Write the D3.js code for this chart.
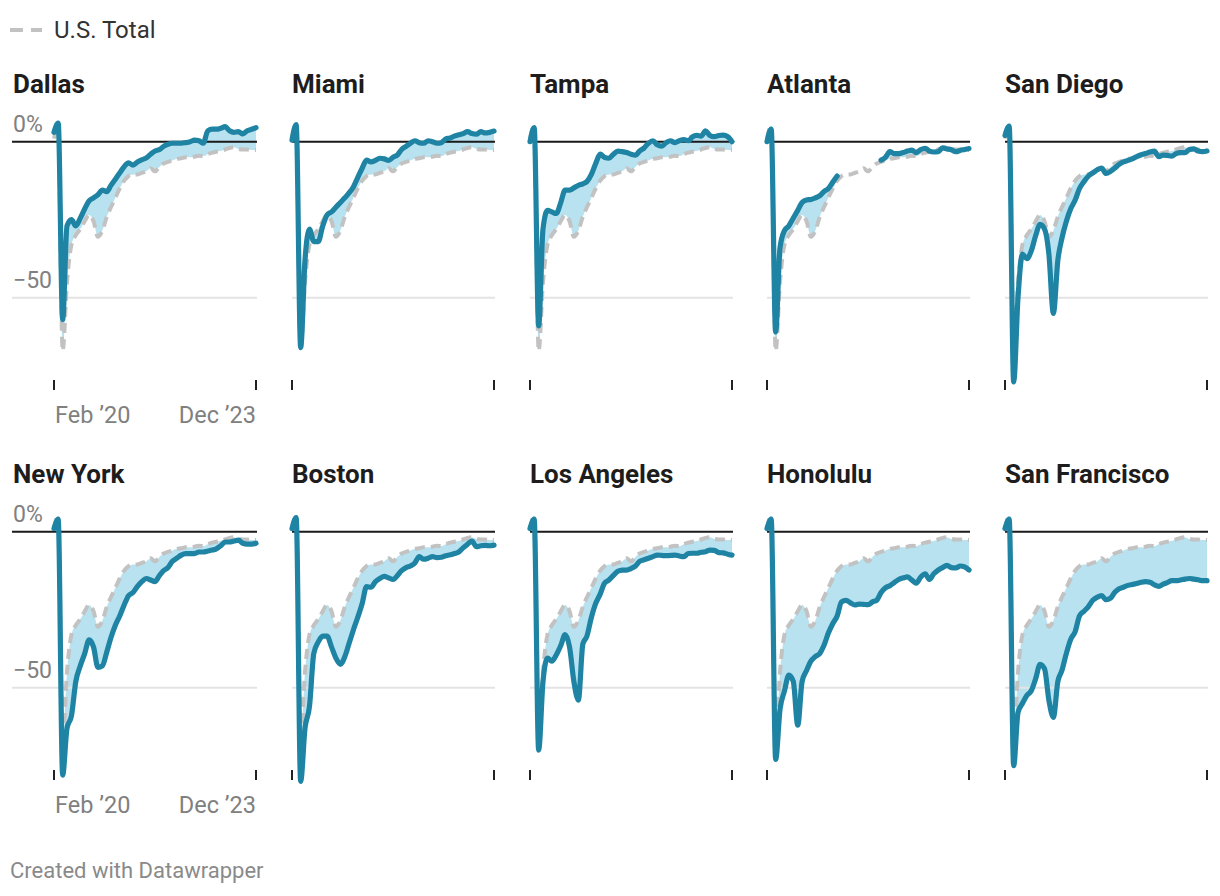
<!DOCTYPE html>
<html><head><meta charset="utf-8">
<script src="https://cdn.jsdelivr.net/npm/d3@7"></script>
<style>
body{margin:0;background:#fff;}
svg text{font-family:Roboto,"Noto Sans",sans-serif;}
</style></head><body>
<svg id="chart" width="1220" height="896"></svg>
<script>
// ---- data (percent change vs. pre-pandemic, monthly Feb 2020 – Dec 2023) ----
const firstMonth = new Date(2020, 1, 1);
const lastMonth = new Date(2023, 11, 1);
const months = d3.timeMonth.range(firstMonth, d3.timeMonth.offset(lastMonth, 1));

const usTotal = [1, 5, -67, -45, -33, -30, -28, -25.5, -23.5, -25.5, -30.5, -28.5, -24, -21, -18, -15, -12.5, -11, -10.5, -10.5, -10, -9.5, -8.5, -9.5, -8, -7, -6.5, -6, -5.5, -5.3, -5, -5, -4.8, -4.5, -4.6, -4, -3.5, -3.2, -3, -2.5, -2, -1.8, -2.3, -2.5, -2.5, -2.7, -2.7];

const dallas = [3, 6, -57, -27, -25, -27, -24.5, -21.5, -19, -18, -17, -15.5, -16, -14, -12, -10, -8, -6.8, -7.5, -6.5, -5.8, -5.2, -4, -3, -2.5, -1.5, -0.8, -0.5, -0.5, -0.5, -0.3, 0, 0.5, 0.3, -0.5, 3.5, 4, 4, 4.3, 4.8, 3.5, 3, 3.2, 2.5, 3.5, 4, 4.5];
const miami = [0.5, 5.5, -66, -38, -28, -32, -32, -27, -23.5, -22.5, -21, -19.5, -18, -16.5, -14.5, -11.5, -8.5, -5.9, -6.5, -6, -5.3, -5.5, -6, -5, -4.2, -2.5, -1.5, -0.5, 0.3, -0.3, -0.5, 0.3, 0, -0.5, -0.3, 0.9, 1.2, 1.8, 2.2, 2.6, 3.2, 2.6, 2.4, 3.2, 2.8, 3.0, 3.4];
const tampa = [0, 4.5, -59, -28, -22, -22.5, -23, -19.5, -15.5, -15.5, -14.8, -14, -13.5, -12.8, -10.5, -7, -4, -5, -5.3, -4, -3, -3.2, -3.5, -4, -4.3, -3, -2, -0.5, 0.3, -1, -1.4, -0.3, 0.3, -0.3, 0.3, 0.7, 0.3, 1.5, 2, 1.8, 3.5, 2, 1.6, 2, 2.1, 1.6, 0];
const atlanta = [0, 4, -61, -34, -28.5, -27, -24.5, -22, -19.5, -18.7, -18.5, -18, -17.3, -16, -15, -13, -11, null, null, null, null, null, null, null, null, null, -5.9, -5, -3.2, -3.8, -3.8, -3.5, -3, -2.7, -3.5, -2.5, -2.1, -3, -3.3, -3.2, -2, -2.3, -2.6, -3.2, -2.8, -2.5, -2.2];
const sanDiego = [2, 5, -77, -50, -36, -37.5, -35, -30, -26.5, -28, -36, -55, -38, -31, -25.5, -21.5, -18.7, -15, -12.8, -11, -10, -9, -8.5, -10.2, -9.5, -8.5, -7.3, -6.5, -6, -5.5, -4.8, -4.2, -3.8, -3.3, -3, -4.8, -4.3, -4.4, -4.6, -3.8, -3.5, -3.5, -2.5, -2.3, -3, -3.2, -3];
const newYork = [1, 4, -78, -63, -59, -48, -43, -39, -34.7, -37, -43.5, -43, -38.5, -34, -30, -27, -23.5, -20.5, -19.5, -17.5, -16, -15, -15.5, -16, -14, -12.5, -11.5, -9.5, -8.5, -7.5, -7, -7, -7, -6.5, -6.5, -6.2, -5.9, -5.5, -4.5, -3.3, -3.3, -3, -2.7, -3.7, -4, -4, -3.7];
const boston = [1, 4.5, -80, -63, -56, -39, -35.3, -33.5, -33.5, -37, -40.5, -42.5, -40, -36, -31.5, -27.5, -23, -17.6, -17.8, -16, -15, -14.3, -14.8, -15.3, -14, -12.5, -11.5, -11, -10, -8, -8.8, -8.5, -8, -8.3, -8.2, -7.7, -7.4, -7, -6.5, -5.2, -4, -3, -4.8, -4.5, -4.4, -4.5, -4.3];
const losAngeles = [1, 4, -70, -48, -40.5, -41.5, -39.5, -36.5, -33, -37, -48, -54, -36, -33.5, -27.5, -23, -20, -16.5, -15.5, -14, -12.7, -12.3, -12.3, -11.8, -11, -9.5, -9, -8.5, -8, -7.5, -7.6, -7.7, -7.6, -7.5, -7.8, -8, -7, -6.9, -6.9, -6.6, -6.4, -5.9, -6, -6.7, -6.8, -7.2, -7.5];
const honolulu = [1, 4, -73, -57, -51, -46, -48, -62, -48, -44.5, -41.5, -40, -39, -36.5, -32.5, -29.5, -27, -22.5, -22, -22.8, -23.5, -23.2, -23.3, -23.4, -22.5, -22, -19.5, -18, -17.3, -16.3, -15.3, -14.8, -14.5, -15.5, -16.5, -14.5, -13.5, -15.3, -13.5, -12.3, -11.5, -10.8, -11.5, -11.6, -11, -11.3, -12.3];
const sanFrancisco = [1, 4, -75, -58, -55, -52.5, -51, -47, -42.5, -44, -54, -59.5, -48, -44.5, -39, -34.5, -32, -27, -25.5, -24, -22, -21, -20.5, -21.8, -21.3, -19.5, -18.3, -17.8, -17.2, -16.9, -16.6, -16.2, -16, -16.2, -17, -17.5, -16.8, -16.3, -15.7, -15.7, -15.5, -15.2, -15, -15.2, -15.4, -15.7, -15.7];

const cityNames = ["Dallas", "Miami", "Tampa", "Atlanta", "San Diego", "New York", "Boston", "Los Angeles", "Honolulu", "San Francisco"];
const citySeries = [dallas, miami, tampa, atlanta, sanDiego, newYork, boston, losAngeles, honolulu, sanFrancisco];
const yTickValues = [0, -50];
const yTickLabels = ["0%", "−50"];
const xTickLabels = ["Feb ’20", "Dec ’23"];
const legendLabel = "U.S. Total";
const footerText = "Created with Datawrapper";

// ---- layout ----
const svg = d3.select("#chart");
const colX = [54, 292, 530, 767, 1005];
const plotW = 202;
const rowZero = [141.7, 531.7];
const pxPerUnit = 3.12;
const yMin = -76.4, yMax = 7;
const blue = "#1f83a4", fillBlue = "#b9e2f0", gray = "#c2c2c2", labelGray = "#808080";

// legend
svg.append("line").attr("x1", 10).attr("x2", 42).attr("y1", 30).attr("y2", 30)
  .attr("stroke", gray).attr("stroke-width", 4).attr("stroke-dasharray", "13,8");
svg.append("text").attr("x", 54).attr("y", 38).attr("font-size", 24).attr("fill", "#333").text(legendLabel);

citySeries.forEach((series, i) => {
  const row = Math.floor(i / 5), col = i % 5;
  const x0 = colX[col];
  const z = rowZero[row];
  const x = d3.scaleTime().domain([firstMonth, lastMonth]).range([x0, x0 + plotW]);
  const y = d3.scaleLinear().domain([yMin, yMax]).range([z - yMin * pxPerUnit, z - yMax * pxPerUnit]);
  const g = svg.append("g");
  const gx0 = col === 0 ? 12 : x0;

  const data = months.map((m, k) => ({m, us: usTotal[k], c: series[k]}));

  // fill between city and US total
  const area = d3.area().defined(d => d.c != null)
    .x(d => x(d.m)).y0(d => y(d.us)).y1(d => y(d.c)).curve(d3.curveMonotoneX);
  g.append("path").datum(data).attr("d", area).attr("fill", fillBlue);

  // gridlines
  yTickValues.forEach((v, t) => {
    g.append("line").attr("x1", gx0).attr("x2", x0 + plotW + 1)
      .attr("y1", y(v)).attr("y2", y(v))
      .attr("stroke", v === 0 ? "#1a1a1a" : "#e3e3e3").attr("stroke-width", 2);
    if (col === 0) {
      g.append("text").attr("x", 13).attr("y", y(v) - 10)
        .attr("font-size", 23).attr("fill", labelGray).text(yTickLabels[t]);
    }
  });

  // US total dashed line
  const usLine = d3.line().x(d => x(d.m)).y(d => y(d.us)).curve(d3.curveMonotoneX);
  g.append("path").datum(data).attr("d", usLine).attr("fill", "none")
    .attr("stroke", gray).attr("stroke-width", 4).attr("stroke-dasharray", "10,6");

  // city line
  const cityLine = d3.line().defined(d => d.c != null).x(d => x(d.m)).y(d => y(d.c)).curve(d3.curveMonotoneX);
  g.append("path").datum(data).attr("d", cityLine).attr("fill", "none")
    .attr("stroke", blue).attr("stroke-width", 5.2).attr("stroke-linejoin", "round").attr("stroke-linecap", "round");

  // x ticks
  const yb = y(yMin);
  [firstMonth, lastMonth].forEach((d, t) => {
    g.append("line").attr("x1", x(d)).attr("x2", x(d)).attr("y1", yb).attr("y2", yb + 10)
      .attr("stroke", "#222").attr("stroke-width", 2);
    if (col === 0) {
      g.append("text").attr("x", t === 0 ? x(d) + 1 : x(d)).attr("y", yb + 43)
        .attr("text-anchor", t === 0 ? "start" : "end")
        .attr("font-size", 23.5).attr("fill", labelGray).text(xTickLabels[t]);
    }
  });

  // title
  g.append("text").attr("x", col === 0 ? 13 : x0).attr("y", z - 49)
    .attr("font-size", 26).attr("font-weight", 700).attr("fill", "#1d1d1d").text(cityNames[i]);
});

svg.append("text").attr("x", 10).attr("y", 878).attr("font-size", 22).attr("fill", "#8a8a8a").text(footerText);
</script>
</body></html>
